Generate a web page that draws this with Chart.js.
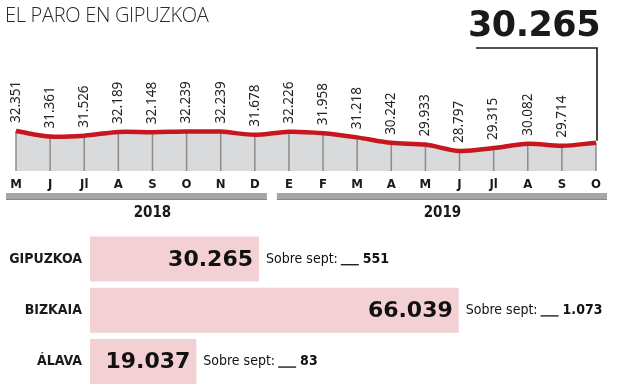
<!DOCTYPE html>
<html>
<head>
<meta charset="utf-8">
<script src="https://cdn.jsdelivr.net/npm/chart.js@4"></script>
<style>
  html, body { margin: 0; padding: 0; background: #fff; width: 622px; height: 385px; overflow: hidden; }
  #wrap { position: relative; width: 622px; height: 385px; }
  #title { position: absolute; left: 5px; top: 1px; font: 300 20px "Open Sans", sans-serif; color: #2a2a2a; letter-spacing: -0.3px; }
  #big { position: absolute; right: 22px; top: 4px; font: bold 35px "DejaVu Sans", sans-serif; color: #1a1a1a; letter-spacing: -0.5px; }
  #lineBox { position: absolute; left: 0; top: 0; width: 622px; height: 235px; }
  #barBox { position: absolute; left: 0; top: 230px; width: 622px; height: 157px; }
</style>
</head>
<body>
<div id="wrap">
  <div id="lineBox"><canvas id="lineChart"></canvas></div>
  <div id="barBox"><canvas id="barChart"></canvas></div>
  <div id="title">EL PARO EN GIPUZKOA</div>
  <div id="big"></div>
</div>
<script>
// data
const months = ['M','J','Jl','A','S','O','N','D','E','F','M','A','M','J','Jl','A','S','O']
const paro = [32351, 31361, 31526, 32189, 32148, 32239, 32239, 31678, 32226, 31958, 31218, 30242, 29933, 28797, 29315, 30082, 29714, 30265]
const years = ['2018', '2019']
const yearFirstMonth = [0, 8]
const yearLastMonth = [7, 17]
const yearLabelAt = [4, 12.5]

const provinces = ['GIPUZKOA', 'BIZKAIA', 'ÁLAVA']
const totals = [30265, 66039, 19037]
const changes = [551, 1073, 83]

const condensed = '"Liberation Sans Narrow", "DejaVu Sans Condensed", sans-serif'
const fmt = n => n.toString().replace(/\B(?=(\d{3})+(?!\d))/g, '.')

document.getElementById('big').textContent = fmt(paro[paro.length - 1])

//vertical lines under the red line
const stemsPlugin = {
    id: 'stems',
    beforeDatasetDraw(chart){
        const ctx = chart.ctx
        const meta = chart.getDatasetMeta(0)
        const bottom = chart.chartArea.bottom
        ctx.save()
        ctx.strokeStyle = '#8c8c8c'
        ctx.lineWidth = 1.5
        meta.data.forEach(p => {
            ctx.beginPath()
            ctx.moveTo(p.x, p.y)
            ctx.lineTo(p.x, bottom)
            ctx.stroke()
        })
        ctx.restore()
    }
}

//rotated values, bracket and year bands
const lineExtras = {
    id: 'lineExtras',
    afterDatasetsDraw(chart){
        const ctx = chart.ctx
        const meta = chart.getDatasetMeta(0)
        const x = chart.scales.x
        ctx.save()
        ctx.fillStyle = '#222'
        ctx.font = '13.5px "Noto Sans", sans-serif'
        ctx.textAlign = 'left'
        ctx.textBaseline = 'middle'
        meta.data.forEach((p, i) => {
            if (i == paro.length - 1) return
            ctx.save()
            ctx.translate(p.x, p.y - 8)
            ctx.rotate(-Math.PI / 2)
            ctx.fillText(fmt(paro[i]), 0, 0)
            ctx.restore()
        })

        //bracket to the big number
        const last = meta.data[meta.data.length - 1]
        ctx.strokeStyle = '#1a1a1a'
        ctx.lineWidth = 1.6
        ctx.beginPath()
        ctx.moveTo(476, 48)
        ctx.lineTo(last.x + 1, 48)
        ctx.lineTo(last.x + 1, last.y - 2)
        ctx.stroke()

        //year bands
        const step = x.getPixelForValue(1) - x.getPixelForValue(0)
        years.forEach((yr, i) => {
            let left = i == 0 ? x.getPixelForValue(yearFirstMonth[i]) - 10 : (x.getPixelForValue(yearFirstMonth[i]) + x.getPixelForValue(yearFirstMonth[i] - 1)) / 2 + 5
            let right = i == years.length - 1 ? x.getPixelForValue(yearLastMonth[i]) + 11 : (x.getPixelForValue(yearLastMonth[i]) + x.getPixelForValue(yearLastMonth[i] + 1)) / 2 - 5
            ctx.fillStyle = '#a6a6a6'
            ctx.fillRect(left, 193, right - left, 7)
            ctx.fillStyle = '#8a8a8a'
            ctx.fillRect(left, 199, right - left, 1)
            ctx.fillStyle = '#1a1a1a'
            ctx.font = 'bold 15px ' + condensed
            ctx.textAlign = 'center'
            ctx.textBaseline = 'middle'
            ctx.fillText(yr, x.getPixelForValue(0) + yearLabelAt[i] * step, 213)
        })
        ctx.restore()
    }
}

new Chart(document.getElementById('lineChart'), {
    type: 'line',
    data: {
        labels: months,
        datasets: [{
            data: paro,
            borderColor: '#c8161e',
            borderWidth: 4.5,
            backgroundColor: '#d9dadc',
            fill: 'start',
            tension: 0.3,
            pointRadius: 0
        }]
    },
    options: {
        responsive: true,
        maintainAspectRatio: false,
        animation: false,
        events: [],
        layout: { padding: { left: 16, right: 26, top: 60, bottom: 34 } },
        scales: {
            x: {
                grid: { display: false, drawTicks: false },
                border: { display: false },
                afterFit: s => { s.height = 30 },
                ticks: {
                    autoSkip: false,
                    maxRotation: 0,
                    padding: 6,
                    color: '#1a1a1a',
                    font: { family: condensed, size: 13, weight: '600' }
                }
            },
            y: { display: false, min: 25244, max: 44960 }
        },
        plugins: { legend: { display: false }, tooltip: { enabled: false } }
    },
    plugins: [stemsPlugin, lineExtras]
})

//bar labels
const barExtras = {
    id: 'barExtras',
    afterDatasetsDraw(chart){
        const ctx = chart.ctx
        const meta = chart.getDatasetMeta(0)
        ctx.save()
        meta.data.forEach((b, i) => {
            ctx.textBaseline = 'middle'
            ctx.fillStyle = '#111'
            ctx.textAlign = 'right'
            ctx.font = 'bold 22px "DejaVu Sans", sans-serif'
            ctx.fillText(fmt(totals[i]), b.x - 6, b.y + 1)

            let tx = b.x + 7
            ctx.textAlign = 'left'
            ctx.font = '14px ' + condensed
            const s = 'Sobre sept:'
            ctx.fillText(s, tx, b.y)
            tx += ctx.measureText(s).width + 3
            ctx.fillRect(tx, b.y + 5, 18, 1.3)
            tx += 22
            ctx.font = 'bold 14px ' + condensed
            ctx.fillText(fmt(changes[i]), tx, b.y)
        })
        ctx.restore()
    }
}

new Chart(document.getElementById('barChart'), {
    type: 'bar',
    data: {
        labels: provinces,
        datasets: [{
            data: totals,
            backgroundColor: '#f3d0d3',
            categoryPercentage: 1,
            barPercentage: 0.88
        }]
    },
    options: {
        indexAxis: 'y',
        responsive: true,
        maintainAspectRatio: false,
        animation: false,
        events: [],
        layout: { padding: { left: 0, right: 22, top: 3.5, bottom: 0 } },
        scales: {
            x: { display: false, min: 0, max: 91330 },
            y: {
                grid: { display: false, drawTicks: false },
                border: { display: false },
                afterFit: s => { s.width = 90; s.paddingTop = 0; s.paddingBottom = 0 },
                ticks: {
                    padding: 8,
                    color: '#1a1a1a',
                    font: { family: condensed, size: 14, weight: 'bold' }
                }
            }
        },
        plugins: { legend: { display: false }, tooltip: { enabled: false } }
    },
    plugins: [barExtras]
})
</script>
</body>
</html>
